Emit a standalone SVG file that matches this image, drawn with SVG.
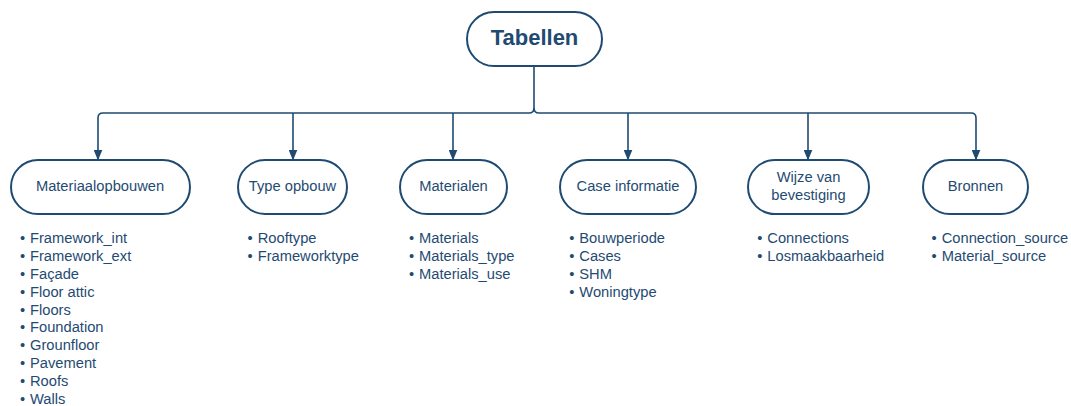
<svg xmlns="http://www.w3.org/2000/svg" width="1071" height="406" viewBox="0 0 1071 406">
  <defs>
    <!-- filled arrowhead, drawn along +x and rotated with the line -->
    <marker id="arrow" markerUnits="userSpaceOnUse" markerWidth="11" markerHeight="9" refX="10.5" refY="4.5" orient="auto" viewBox="0 0 11 9">
      <path d="M0 0 L11 4.5 L0 9 Z" fill="#1f4b72"/>
    </marker>
    <style>
      .node { fill: #ffffff; stroke: #1f4b72; stroke-width: 2; }
      .wire { fill: none; stroke: #1f4b72; stroke-width: 1.6; }
      .label { font-family: "Liberation Sans", Arial, sans-serif; font-size: 14.7px; fill: #1f4b72; text-anchor: middle; }
      .title { font-family: "Liberation Sans", Arial, sans-serif; font-size: 22px; font-weight: bold; fill: #1f4b72; text-anchor: middle; }
      .item { font-family: "Liberation Sans", Arial, sans-serif; font-size: 14.7px; fill: #1f4b72; }
      .dot { font-family: "Liberation Sans", Arial, sans-serif; font-size: 14.7px; fill: #1f4b72; text-anchor: middle; }
    </style>
  </defs>
  <rect width="1071" height="406" fill="#ffffff"/>

  <!-- connectors: trunk from the root, shared bus, drops to each table group -->
  <g id="connectors">
    <path class="wire" d="M534 67 L534 108 Q534 113 529 113 L103 113 Q98 113 98 118 L98 160" marker-end="url(#arrow)"/>
    <path class="wire" d="M534 108 Q534 113 539 113 L971 113 Q976 113 976 118 L976 160" marker-end="url(#arrow)"/>
    <path class="wire" d="M293 113 L293 160" marker-end="url(#arrow)"/>
    <path class="wire" d="M453 113 L453 160" marker-end="url(#arrow)"/>
    <path class="wire" d="M628 113 L628 160" marker-end="url(#arrow)"/>
    <path class="wire" d="M808 113 L808 160" marker-end="url(#arrow)"/>
  </g>

  <g id="root">
    <rect class="node" x="467" y="12" width="135" height="54" rx="27"/>
    <text class="title" x="534.5" y="44.5">Tabellen</text>
  </g>

  <g id="materiaalopbouwen">
    <rect class="node" x="11" y="160" width="179" height="54" rx="27"/>
    <text class="label" x="100" y="190.5">Materiaalopbouwen</text>
    <text class="dot"><tspan x="22.5" y="243.3">•</tspan><tspan x="22.5" y="261.1">•</tspan><tspan x="22.5" y="278.9">•</tspan><tspan x="22.5" y="296.7">•</tspan><tspan x="22.5" y="314.5">•</tspan><tspan x="22.5" y="332.3">•</tspan><tspan x="22.5" y="350.1">•</tspan><tspan x="22.5" y="367.9">•</tspan><tspan x="22.5" y="385.7">•</tspan><tspan x="22.5" y="403.5">•</tspan></text>
    <text class="item"><tspan x="30" y="243.3">Framework_int</tspan><tspan x="30" y="261.1">Framework_ext</tspan><tspan x="30" y="278.9">Façade</tspan><tspan x="30" y="296.7">Floor attic</tspan><tspan x="30" y="314.5">Floors</tspan><tspan x="30" y="332.3">Foundation</tspan><tspan x="30" y="350.1">Grounfloor</tspan><tspan x="30" y="367.9">Pavement</tspan><tspan x="30" y="385.7">Roofs</tspan><tspan x="30" y="403.5">Walls</tspan></text>
  </g>

  <g id="type-opbouw">
    <rect class="node" x="238" y="160" width="109" height="54" rx="27"/>
    <text class="label" x="292.5" y="190.5">Type opbouw</text>
    <text class="dot"><tspan x="250.2" y="243.3">•</tspan><tspan x="250.2" y="261.1">•</tspan></text>
    <text class="item"><tspan x="257.7" y="243.3">Rooftype</tspan><tspan x="257.7" y="261.1">Frameworktype</tspan></text>
  </g>

  <g id="materialen">
    <rect class="node" x="400" y="160" width="107" height="54" rx="27"/>
    <text class="label" x="453.5" y="190.5">Materialen</text>
    <text class="dot"><tspan x="411.5" y="243.3">•</tspan><tspan x="411.5" y="261.1">•</tspan><tspan x="411.5" y="278.9">•</tspan></text>
    <text class="item"><tspan x="419" y="243.3">Materials</tspan><tspan x="419" y="261.1">Materials_type</tspan><tspan x="419" y="278.9">Materials_use</tspan></text>
  </g>

  <g id="case-informatie">
    <rect class="node" x="560" y="160" width="136" height="54" rx="27"/>
    <text class="label" x="628" y="190.5">Case informatie</text>
    <text class="dot"><tspan x="571.8" y="243.3">•</tspan><tspan x="571.8" y="261.1">•</tspan><tspan x="571.8" y="278.9">•</tspan><tspan x="571.8" y="296.7">•</tspan></text>
    <text class="item"><tspan x="579.3" y="243.3">Bouwperiode</tspan><tspan x="579.3" y="261.1">Cases</tspan><tspan x="579.3" y="278.9">SHM</tspan><tspan x="579.3" y="296.7">Woningtype</tspan></text>
  </g>

  <g id="wijze-van-bevestiging">
    <rect class="node" x="748" y="160" width="121" height="54" rx="27"/>
    <text class="label"><tspan x="808.5" y="182">Wijze van</tspan><tspan x="808.5" y="199.8">bevestiging</tspan></text>
    <text class="dot"><tspan x="759.8" y="243.3">•</tspan><tspan x="759.8" y="261.1">•</tspan></text>
    <text class="item"><tspan x="767.3" y="243.3">Connections</tspan><tspan x="767.3" y="261.1">Losmaakbaarheid</tspan></text>
  </g>

  <g id="bronnen">
    <rect class="node" x="923" y="160" width="105" height="54" rx="27"/>
    <text class="label" x="975.5" y="190.5">Bronnen</text>
    <text class="dot"><tspan x="934.2" y="243.3">•</tspan><tspan x="934.2" y="261.1">•</tspan></text>
    <text class="item"><tspan x="941.7" y="243.3">Connection_source</tspan><tspan x="941.7" y="261.1">Material_source</tspan></text>
  </g>
</svg>
